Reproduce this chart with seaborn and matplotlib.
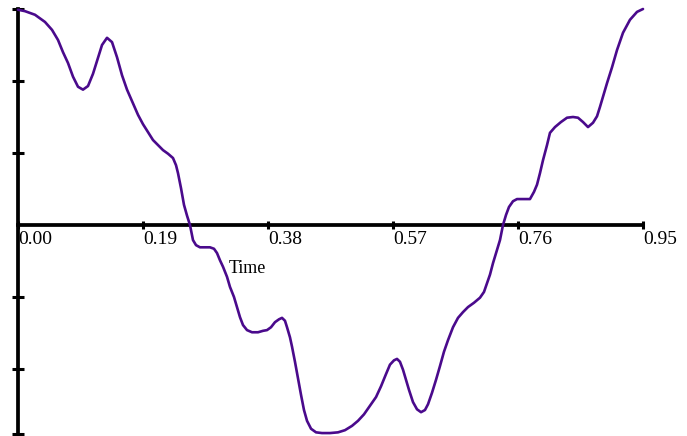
import matplotlib
matplotlib.use("Agg")
import matplotlib.pyplot as plt
import seaborn as sns
import pandas as pd

# Sampled signal: time (s) and amplitude
time = [
    0.0000, 0.0106, 0.0258, 0.0410, 0.0517, 0.0608, 0.0684, 0.0760, 0.0836, 0.0912,
    0.0988, 0.1064, 0.1140, 0.1216, 0.1277, 0.1353, 0.1429, 0.1505, 0.1581, 0.1657,
    0.1748, 0.1824, 0.1900, 0.1976, 0.2052, 0.2128, 0.2204, 0.2280, 0.2356, 0.2402,
    0.2432, 0.2478, 0.2523, 0.2569, 0.2614, 0.2660, 0.2706, 0.2766, 0.2842, 0.2918,
    0.2979, 0.3025, 0.3070, 0.3116, 0.3177, 0.3222, 0.3283, 0.3329, 0.3374, 0.3420,
    0.3481, 0.3557, 0.3648, 0.3724, 0.3785, 0.3846, 0.3906, 0.3967, 0.4013, 0.4058,
    0.4089, 0.4134, 0.4165, 0.4210, 0.4256, 0.4302, 0.4347, 0.4393, 0.4454, 0.4530,
    0.4621, 0.4742, 0.4864, 0.4970, 0.5077, 0.5168, 0.5259, 0.5350, 0.5442, 0.5518,
    0.5594, 0.5654, 0.5715, 0.5761, 0.5806, 0.5852, 0.5898, 0.5943, 0.6004, 0.6065,
    0.6126, 0.6186, 0.6232, 0.6293, 0.6354, 0.6414, 0.6475, 0.6536, 0.6612, 0.6688,
    0.6764, 0.6840, 0.6931, 0.7022, 0.7083, 0.7129, 0.7174, 0.7220, 0.7266, 0.7326,
    0.7372, 0.7418, 0.7463, 0.7524, 0.7585, 0.7691, 0.7782, 0.7843, 0.7889, 0.7934,
    0.7980, 0.8041, 0.8086, 0.8162, 0.8253, 0.8345, 0.8436, 0.8512, 0.8588, 0.8664,
    0.8740, 0.8801, 0.8846, 0.8892, 0.8953, 0.9029, 0.9105, 0.9196, 0.9302, 0.9409,
    0.9500,
]
amplitude = [
    2.99, 2.97, 2.92, 2.82, 2.71, 2.57, 2.40, 2.25, 2.06, 1.92,
    1.88, 1.93, 2.10, 2.32, 2.50, 2.60, 2.54, 2.33, 2.08, 1.88,
    1.69, 1.53, 1.40, 1.29, 1.18, 1.11, 1.04, 0.99, 0.93, 0.83,
    0.72, 0.51, 0.28, 0.13, 0.00, -0.21, -0.28, -0.31, -0.31, -0.31,
    -0.33, -0.39, -0.49, -0.58, -0.72, -0.86, -1.00, -1.14, -1.28, -1.39,
    -1.46, -1.49, -1.49, -1.47, -1.46, -1.42, -1.35, -1.31, -1.29, -1.33,
    -1.42, -1.56, -1.69, -1.90, -2.13, -2.36, -2.57, -2.72, -2.83, -2.88,
    -2.89, -2.89, -2.88, -2.85, -2.79, -2.72, -2.63, -2.51, -2.39, -2.24,
    -2.07, -1.94, -1.88, -1.86, -1.90, -2.01, -2.15, -2.29, -2.46, -2.56,
    -2.60, -2.57, -2.49, -2.33, -2.15, -1.96, -1.76, -1.60, -1.42, -1.29,
    -1.21, -1.14, -1.08, -1.01, -0.93, -0.81, -0.69, -0.53, -0.39, -0.21,
    0.00, 0.14, 0.25, 0.33, 0.36, 0.36, 0.36, 0.46, 0.56, 0.72,
    0.90, 1.11, 1.28, 1.36, 1.43, 1.49, 1.50, 1.49, 1.43, 1.36,
    1.42, 1.51, 1.64, 1.78, 1.97, 2.19, 2.43, 2.67, 2.85, 2.96,
    3.00,
]

x_ticks = [0.00, 0.19, 0.38, 0.57, 0.76, 0.95]
x_tick_labels = ["0.00", "0.19", "0.38", "0.57", "0.76", "0.95"]
y_ticks = [-2.9, -2.0, -1.0, 1.0, 2.0, 3.0]
x_label = "Time"

df = pd.DataFrame({"Time": time, "Amplitude": amplitude})

sns.set_style("white")
plt.rcParams["font.family"] = ["Liberation Serif", "DejaVu Serif"]
plt.rcParams["text.color"] = "black"
plt.rcParams["xtick.labelcolor"] = "black"

fig = plt.figure(figsize=(6.87, 4.36), dpi=100)
ax = fig.add_axes([18 / 687, 2 / 436, 625 / 687, 425 / 436])

sns.lineplot(data=df, x="Time", y="Amplitude", ax=ax, color="#4a0a8c",
             linewidth=1.9, estimator=None, sort=False, clip_on=False)

ax.set_xlim(0, 0.95)
ax.set_ylim(-2.903, 3.0)

# Axes drawn through the origin
for side in ("top", "right"):
    ax.spines[side].set_visible(False)
ax.spines["bottom"].set_position(("data", 0))
ax.spines["left"].set_position(("data", 0))
for side in ("bottom", "left"):
    ax.spines[side].set_linewidth(2.7)
    ax.spines[side].set_color("black")
    ax.spines[side].set_zorder(1)

ax.set_xticks(x_ticks)
ax.set_xticklabels(x_tick_labels, ha="left", color="black")
ax.set_yticks(y_ticks)
ax.set_yticklabels([])
ax.tick_params(axis="x", direction="inout", length=6, width=2.2, color="black",
               labelsize=14, labelcolor="black", pad=1, bottom=True)
ax.tick_params(axis="y", direction="inout", length=8, width=2.2, color="black",
               left=True)

ax.set_xlabel("")
ax.set_ylabel("")
ax.text(0.3195, -0.6, x_label, ha="left", va="center", fontsize=13, color="black")

ax.grid(False)
fig.savefig("out.png", dpi=100)
